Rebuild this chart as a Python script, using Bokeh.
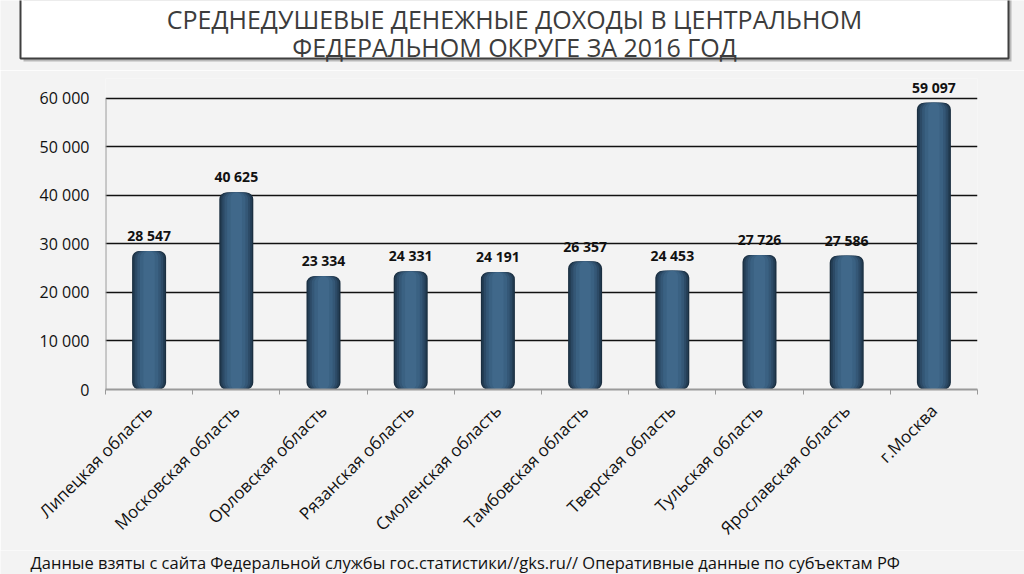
import math
from bokeh.plotting import figure
from bokeh.layouts import column
from bokeh.models import Range1d, FixedTicker, ColumnDataSource, LabelSet, Label
from bokeh.core.properties import value
from bokeh.embed import file_html
from bokeh.resources import INLINE

regions = ["Липецкая область", "Московская область", "Орловская область",
           "Рязанская область", "Смоленская область", "Тамбовская область",
           "Тверская область", "Тульская область", "Ярославская область", "г.Москва"]
incomes = [28547, 40625, 23334, 24331, 24191, 26357, 24453, 27726, 27586, 59097]
y_ticks = [0, 10000, 20000, 30000, 40000, 50000, 60000]
y_tick_labels = ["0", "10 000", "20 000", "30 000", "40 000", "50 000", "60 000"]
title_lines = ["СРЕДНЕДУШЕВЫЕ ДЕНЕЖНЫЕ ДОХОДЫ В ЦЕНТРАЛЬНОМ",
               "ФЕДЕРАЛЬНОМ ОКРУГЕ ЗА 2016 ГОД"]
footer = "Данные взяты с сайта Федеральной службы гос.статистики//gks.ru// Оперативные данные по субъектам РФ"

BG = "#f3f3f3"
FONT = "Open Sans"
W = 1024


def blank(h):
    f = figure(width=W, height=h, output_backend="svg", toolbar_location=None,
               x_range=Range1d(0, W), y_range=Range1d(h, 0),
               min_border=0, background_fill_color=BG, border_fill_color=BG,
               outline_line_color=None, frame_align=False)
    f.axis.visible = False
    f.grid.grid_line_color = None
    return f


# ---- title panel ----
top = blank(70)
top.quad(left=[23], right=[1011], top=[-20], bottom=[61], fill_color="#b9b9b9",
         line_color=None)
top.quad(left=[20], right=[1008], top=[-20], bottom=[58], fill_color="white",
         line_color="#3f3f3f", line_width=2)
for i, t in enumerate(title_lines):
    top.add_layout(Label(x=514, y=18 + 28 * i, text=t, text_align="center",
                         text_baseline="middle", text_font=FONT,
                         text_font_size="25px", text_color="#3c3c3c"))

# ---- chart ----
xs = list(range(1, len(regions) + 1))
labels = [f"{v:,}".replace(",", " ") for v in incomes]
src = ColumnDataSource(dict(x=xs, top=incomes, label=labels))

p = figure(width=W, height=480, output_backend="svg", toolbar_location=None,
           x_range=Range1d(0.5, len(regions) + 0.5), y_range=Range1d(0, 64100),
           min_border_left=105, min_border_right=47, min_border_top=8,
           min_border_bottom=160, background_fill_color=BG, border_fill_color=BG,
           outline_line_color=None, frame_align=False)

layers = [(0.39, "#1b2f41"), (0.36, "#233d54"), (0.32, "#2c4a66"),
          (0.27, "#345776"), (0.21, "#3a6182"), (0.13, "#40688a")]
for w, c in layers:
    p.vbar(x="x", top="top", bottom=0, width=w, source=src, fill_color=c,
           line_color=None, border_radius=7)

p.add_layout(LabelSet(x="x", y="top", text="label", source=src, y_offset=6,
                      text_align="center", text_baseline="bottom",
                      text_font=value(FONT), text_font_style="bold",
                      text_font_size="14px", text_color="#111111"))

# vertical axis line only up to the top tick
p.segment(x0=[0.5], y0=[y_ticks[0]], x1=[0.5], y1=[y_ticks[-1]],
          line_color="#9a9a9a", line_width=2)

p.xaxis.ticker = FixedTicker(ticks=xs, minor_ticks=[x - 0.5 for x in xs] + [len(xs) + 0.5])
p.xaxis.major_label_overrides = {x: r for x, r in zip(xs, regions)}
p.xaxis.major_label_orientation = math.pi / 4
p.xaxis.major_tick_line_color = None
p.xaxis.minor_tick_line_color = "#999999"
p.xaxis.minor_tick_out = 5
p.xaxis.minor_tick_in = 0
p.xaxis.axis_line_color = "#9a9a9a"
p.xaxis.axis_line_width = 2
p.xaxis.major_label_text_font = FONT
p.xaxis.major_label_text_font_size = "17px"
p.xaxis.major_label_text_color = "#111111"
p.xaxis.major_label_standoff = 12

p.yaxis.ticker = FixedTicker(ticks=y_ticks)
p.yaxis.major_label_overrides = {t: l for t, l in zip(y_ticks, y_tick_labels)}
p.yaxis.major_tick_line_color = None
p.yaxis.minor_tick_line_color = None
p.yaxis.axis_line_color = None
p.yaxis.major_label_text_font = FONT
p.yaxis.major_label_text_font_size = "16px"
p.yaxis.major_label_text_color = "#111111"
p.yaxis.major_label_standoff = 10

p.xgrid.grid_line_color = None
p.ygrid.ticker = FixedTicker(ticks=y_ticks[1:])
p.ygrid.grid_line_color = "#111111"
p.ygrid.grid_line_width = 1.4

# ---- footer ----
bottom = blank(24)
bottom.add_layout(Label(x=30, y=11.5, text=footer, text_align="left",
                        text_baseline="middle", text_font=FONT,
                        text_font_size="16.5px", text_color="#111111"))

layout = column(top, p, bottom, spacing=0)
html = file_html(layout, INLINE)
html = html.replace("<body>", '<body style="background:%s">' % BG, 1)
open("out.html", "w").write(html)
